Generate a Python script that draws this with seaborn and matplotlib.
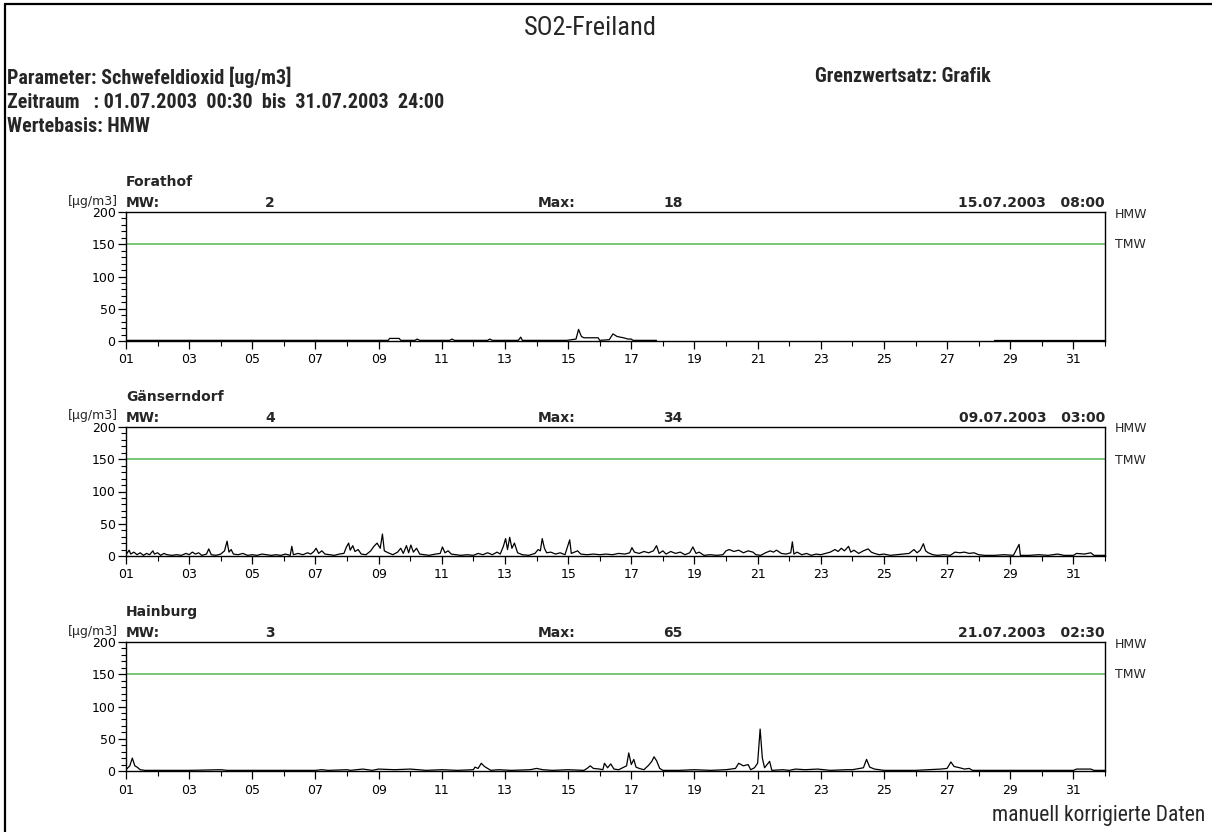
import numpy as np
import pandas as pd
import matplotlib
matplotlib.use('Agg')
import matplotlib.pyplot as plt
import seaborn as sns
from matplotlib import font_manager as fm
from matplotlib.ticker import FixedLocator, MultipleLocator
from matplotlib.lines import Line2D

nan = np.nan

# ---------------------------------------------------------------------------
# data (days of July 2003, 1.0 = 01.07. 00:00), SO2 half hour means [ug/m3]
# ---------------------------------------------------------------------------
stations = ['Forathof', 'Gänserndorf', 'Hainburg']
mw_values = ['2', '4', '3']
max_values = ['18', '34', '65']
max_times = ['15.07.2003   08:00', '09.07.2003   03:00', '21.07.2003   02:30']

forathof_days = [1.0, 1.5, 2.3, 3.1, 4.0, 4.8, 5.6, 6.5, 7.3, 8.2, 9.0, 9.3, 9.35,
                 9.65, 9.7, 10.15, 10.22, 10.3, 11.25, 11.32, 11.4, 12.45, 12.52,
                 12.6, 13.42, 13.5, 13.55, 14.2, 14.95, 15.25, 15.33, 15.42, 15.5,
                 15.95, 16.0, 16.3, 16.42, 16.55, 16.75, 16.9, 17.0, 17.05, 17.4,
                 17.8, nan, 28.5, 29.5, 30.5, 31.5, 32.0]
forathof_vals = [1, 1, 1, 1, 1, 1, 1, 1, 1, 1, 1, 1, 4,
                 4, 1, 1, 3, 1, 1, 3, 1, 1, 3,
                 1, 1, 6, 1, 1, 1, 3, 18, 7, 5,
                 5, 1, 2, 11, 7, 5, 3, 3, 1, 1,
                 1, nan, 1, 1, 1, 1, 1]

gaens_days = [1.0, 1.1, 1.15, 1.25, 1.35, 1.45, 1.55, 1.65, 1.75, 1.85, 1.9, 2.0,
              2.1, 2.2, 2.3, 2.45, 2.6, 2.75, 2.9, 3.0, 3.1, 3.2, 3.3, 3.4, 3.55,
              3.62, 3.7, 3.85, 4.0, 4.12, 4.2, 4.26, 4.33, 4.4, 4.55, 4.7, 4.85,
              5.0, 5.15, 5.3, 5.45, 5.6, 5.75, 5.9, 6.05, 6.2, 6.25, 6.3, 6.45,
              6.6, 6.75, 6.85, 6.95, 7.02, 7.1, 7.2, 7.3, 7.45, 7.6, 7.75, 7.9,
              7.98, 8.05, 8.1, 8.18, 8.25, 8.35, 8.45, 8.6, 8.75, 8.85, 8.95,
              9.05, 9.12, 9.18, 9.3, 9.45, 9.6, 9.7, 9.78, 9.88, 9.95, 10.02,
              10.1, 10.2, 10.3, 10.45, 10.6, 10.8, 10.95, 11.02, 11.1, 11.2,
              11.3, 11.45, 11.6, 11.8, 12.0, 12.15, 12.3, 12.45, 12.6, 12.75,
              12.85, 12.95, 13.02, 13.08, 13.15, 13.22, 13.3, 13.4, 13.55,
              13.75, 13.95, 14.05, 14.12, 14.18, 14.25, 14.32, 14.45, 14.6,
              14.75, 14.9, 15.05, 15.1, 15.2, 15.3, 15.4, 15.6, 15.8, 16.0,
              16.2, 16.4, 16.6, 16.8, 16.95, 17.02, 17.1, 17.25, 17.4, 17.55,
              17.7, 17.8, 17.88, 18.0, 18.1, 18.25, 18.4, 18.55, 18.7, 18.85,
              18.95, 19.05, 19.15, 19.3, 19.5, 19.7, 19.9, 20.0, 20.1, 20.25,
              20.4, 20.55, 20.7, 20.85, 20.95, 21.1, 21.25, 21.4, 21.5, 21.6,
              21.75, 21.9, 22.05, 22.1, 22.15, 22.25, 22.4, 22.55, 22.7, 22.85,
              23.0, 23.15, 23.3, 23.45, 23.55, 23.65, 23.75, 23.88, 23.95,
              24.05, 24.2, 24.35, 24.5, 24.6, 24.7, 24.85, 25.0, 25.2, 25.4,
              25.6, 25.8, 25.95, 26.05, 26.15, 26.25, 26.32, 26.4, 26.55, 26.7,
              26.9, 27.1, 27.25, 27.4, 27.55, 27.7, 27.85, 28.0, 28.2, 28.5,
              28.8, 29.1, 29.28, 29.32, 29.6, 29.9, 30.2, 30.5, 30.7, 31.0,
              31.1, 31.35, 31.55, 31.65, 32.0]
gaens_vals = [2, 9, 3, 6, 2, 5, 1, 4, 2, 8, 3, 5,
              1, 4, 2, 1, 2, 1, 4, 2, 6, 3, 5, 1, 3,
              11, 2, 1, 3, 8, 23, 6, 10, 3, 2, 4, 1,
              2, 1, 3, 2, 1, 2, 1, 3, 1, 15, 2, 4,
              2, 5, 3, 7, 12, 4, 8, 3, 2, 1, 3, 4,
              14, 20, 9, 16, 7, 10, 3, 2, 8, 15, 20,
              12, 34, 8, 5, 2, 6, 12, 4, 16, 5, 17,
              6, 12, 3, 2, 1, 3, 4, 14, 5, 8,
              3, 2, 1, 2, 1, 4, 2, 5, 2, 6,
              3, 15, 27, 10, 29, 12, 20, 5, 2,
              1, 4, 10, 8, 27, 12, 5, 6, 3,
              5, 2, 25, 4, 6, 8, 3, 2, 3, 2,
              3, 2, 4, 3, 5, 13, 6, 4, 7, 5,
              8, 16, 4, 8, 3, 7, 4, 6, 2, 5,
              14, 4, 6, 1, 2, 1, 2, 8, 10, 7,
              9, 5, 8, 6, 2, 1, 5, 8, 6, 9,
              4, 3, 5, 22, 3, 6, 2, 4, 1, 3,
              2, 4, 6, 10, 7, 12, 8, 15, 6,
              9, 4, 8, 11, 6, 4, 2, 3, 1, 2,
              3, 4, 10, 5, 9, 19, 8, 5, 2, 1,
              2, 1, 6, 5, 6, 4, 5, 2, 1, 1,
              2, 1, 18, 1, 1, 2, 1, 3, 1, 1,
              4, 3, 5, 1, 1]

hain_days = [1.0, 1.12, 1.2, 1.28, 1.35, 1.45, 1.6, 2.0, 3.0, 4.0, 4.2, 5.0, 6.0,
             7.0, 7.2, 7.4, 8.0, 8.1, 8.5, 8.8, 9.0, 9.5, 10.0, 10.5, 11.0, 11.5,
             12.0, 12.05, 12.15, 12.25, 12.35, 12.45, 12.55, 12.8, 13.2, 13.8,
             14.0, 14.2, 14.5, 15.0, 15.5, 15.6, 15.7, 15.8, 16.0, 16.1, 16.15,
             16.25, 16.35, 16.45, 16.6, 16.85, 16.92, 17.0, 17.08, 17.15, 17.25,
             17.4, 17.55, 17.65, 17.72, 17.8, 17.9, 18.0, 18.5, 19.0, 19.5, 20.0,
             20.3, 20.4, 20.55, 20.7, 20.78, 20.9, 21.0, 21.08, 21.15, 21.22,
             21.3, 21.38, 21.45, 21.8, 22.0, 22.2, 22.5, 22.9, 23.3, 23.8, 24.0,
             24.35, 24.45, 24.55, 24.7, 25.0, 26.0, 26.8, 27.0, 27.12, 27.22,
             27.4, 27.55, 27.7, 27.8, 28.5, 29.0, 30.0, 31.0, 31.1, 31.55,
             31.65, 32.0]
hain_vals = [2, 8, 20, 8, 6, 2, 1, 1, 1, 2, 1, 1, 1,
             1, 2, 1, 2, 1, 3, 1, 3, 2, 3, 1, 2, 1,
             2, 6, 4, 12, 7, 4, 1, 2, 1, 2,
             4, 2, 1, 2, 1, 4, 8, 4, 3, 2, 12,
             5, 11, 3, 2, 8, 28, 10, 18, 6, 4,
             2, 9, 15, 22, 16, 4, 1, 1, 2, 1, 2,
             4, 12, 8, 10, 2, 5, 12, 65, 20, 5,
             10, 15, 1, 2, 1, 3, 2, 3, 1, 2, 2,
             5, 18, 6, 3, 1, 1, 3, 4, 14, 7,
             5, 3, 4, 1, 1, 1, 1, 1, 3, 3,
             1, 1]

series = [(forathof_days, forathof_vals), (gaens_days, gaens_vals), (hain_days, hain_vals)]

y_ticks = [0, 50, 100, 150, 200]
x_ticks = list(range(1, 32, 2))
x_labels = [f'{d:02d}' for d in x_ticks]
limit_tmw = 150

# ---------------------------------------------------------------------------
# fonts
# ---------------------------------------------------------------------------
sns.set_style('ticks')
available = {f.name for f in fm.fontManager.ttflist}


def pick(*names):
    for n in names:
        if n in available:
            return n
    return 'DejaVu Sans'


narrow = pick('Liberation Sans Narrow', 'Roboto Condensed', 'Liberation Sans')
plt.rcParams['font.family'] = ['DejaVu Sans']

W, H = 1212, 832
fig = plt.figure(figsize=(W / 100, H / 100), dpi=100)
fig.patch.set_facecolor('white')


def fx(x):
    return x / W


def fy(y):
    return 1 - y / H


# frame lines (top / left)
fig.add_artist(Line2D([fx(5), 1], [fy(4), fy(4)], transform=fig.transFigure, color='black', lw=1.6))
fig.add_artist(Line2D([fx(5), fx(5)], [fy(4), 0], transform=fig.transFigure, color='black', lw=1.6))

# header
fig.text(fx(590), fy(28), 'SO2-Freiland', ha='center', va='center', fontsize=19, family=narrow)
hdr = dict(ha='left', va='center', fontsize=14.5, fontweight='bold', family=narrow)
fig.text(fx(7), fy(77), 'Parameter: Schwefeldioxid [ug/m3]', **hdr)
fig.text(fx(815), fy(77), 'Grenzwertsatz: Grafik', **hdr)
fig.text(fx(7), fy(103), 'Zeitraum   : 01.07.2003  00:30  bis  31.07.2003  24:00', **hdr)
fig.text(fx(7), fy(126), 'Wertebasis: HMW', **hdr)
fig.text(fx(1205), fy(816), 'manuell korrigierte Daten', ha='right', va='center',
         fontsize=15.5, family=narrow)

# ---------------------------------------------------------------------------
# panels
# ---------------------------------------------------------------------------
left, right = 126, 1105
panel_tops = [212, 427, 642]
panel_h = 129

for i, (days, vals) in enumerate(series):
    top = panel_tops[i]
    ax = fig.add_axes([fx(left), fy(top + panel_h), (right - left) / W, panel_h / H])

    df = pd.DataFrame({'day': days, 'value': vals})
    df['seg'] = df['value'].isna().cumsum()
    df = df.dropna()
    sns.lineplot(data=df, x='day', y='value', units='seg', estimator=None, sort=False,
                 color='black', lw=0.9, ax=ax, legend=False)
    ax.axhline(limit_tmw, color='#6cc36c', lw=1.3, zorder=1)

    ax.set_xlim(1, 32)
    ax.set_ylim(0, 200)
    ax.set_xlabel('')
    ax.set_ylabel('')

    ax.xaxis.set_major_locator(FixedLocator(x_ticks))
    ax.xaxis.set_minor_locator(FixedLocator(list(range(2, 33, 2))))
    ax.set_xticklabels(x_labels)
    ax.yaxis.set_major_locator(FixedLocator(y_ticks))
    ax.yaxis.set_minor_locator(MultipleLocator(10))
    ax.set_yticklabels([str(v) for v in y_ticks])

    ax.tick_params(axis='both', which='major', direction='out', length=6, width=0.9,
                   labelsize=9, color='black', labelcolor='black')
    ax.tick_params(axis='x', which='major', pad=3)
    ax.tick_params(axis='y', which='major', pad=1.5)
    ax.tick_params(axis='both', which='minor', direction='out', length=3.5, width=0.8, color='black')

    for s in ax.spines.values():
        s.set_visible(True)
        s.set_color('black')
        s.set_linewidth(1.0)

    # texts around the panel
    fig.text(fx(126), fy(top - 30), stations[i], ha='left', va='center',
             fontsize=10, fontweight='bold')
    fig.text(fx(118), fy(top - 11), '[µg/m3]', ha='right', va='center', fontsize=9)
    fig.text(fx(126), fy(top - 9), 'MW:', ha='left', va='center', fontsize=10, fontweight='bold')
    fig.text(fx(265), fy(top - 9), mw_values[i], ha='left', va='center', fontsize=10, fontweight='bold')
    fig.text(fx(538), fy(top - 9), 'Max:', ha='left', va='center', fontsize=10, fontweight='bold')
    fig.text(fx(663), fy(top - 9), max_values[i], ha='left', va='center', fontsize=10, fontweight='bold')
    fig.text(fx(1105), fy(top - 9), max_times[i], ha='right', va='center', fontsize=10, fontweight='bold')
    fig.text(fx(1115), fy(top + 2), 'HMW', ha='left', va='center', fontsize=9)
    fig.text(fx(1115), fy(top + 33), 'TMW', ha='left', va='center', fontsize=9)

fig.savefig('out.png', dpi=100, facecolor='white')
